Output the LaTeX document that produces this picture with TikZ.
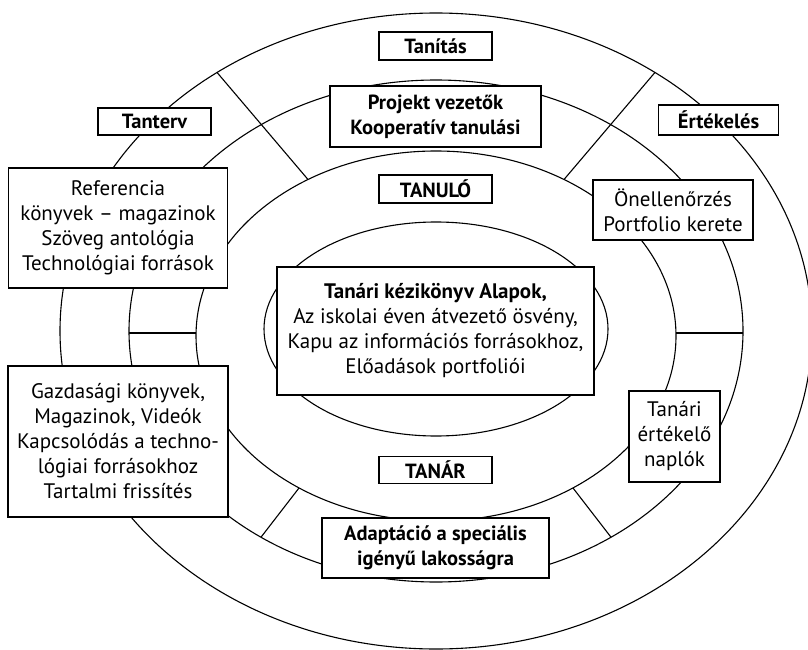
\documentclass[tikz,border=0pt]{standalone}
\usepackage{fontspec}
\setmainfont{PT Sans}
\begin{document}
\begin{tikzpicture}[x=1pt,y=-1pt,
  ring/.style={line width=1.1pt},
  divider/.style={line width=1.1pt},
  lbl/.style={draw, fill=white, line width=1.3pt, inner sep=0pt, align=center,
    font=\fontsize{20.5}{25}\selectfont\bfseries},
  txt/.style={draw, fill=white, line width=1.3pt, inner sep=0pt, align=center,
    font=\fontsize{21}{25}\selectfont}]
\useasboundingbox (0,0) rectangle (808,650);
% rings
\draw[ring] (436,331) ellipse [x radius=376, y radius=318];
\draw[ring] (436,331) ellipse [x radius=307, y radius=251];
\draw[ring] (436,336) ellipse [x radius=240, y radius=185];
\draw[ring] (436,329) ellipse [x radius=172, y radius=107];
% divider end points
\coordinate (ulA) at (217,72.4);
\coordinate (ulB) at (308,179.5);
\coordinate (urA) at (655,72.4);
\coordinate (urB) at (564,179.5);
\coordinate (llA) at (299,488);
\coordinate (llB) at (261,537.2);
\coordinate (lrA) at (573,488);
\coordinate (lrB) at (611,537.2);
\coordinate (lhA) at (129,333);
\coordinate (lhB) at (196,333);
\coordinate (rhA) at (676,333);
\coordinate (rhB) at (743,333);
\draw[divider] (ulA) -- (ulB);
\draw[divider] (urA) -- (urB);
\draw[divider] (llA) -- (llB);
\draw[divider] (lrA) -- (lrB);
\draw[divider] (lhA) -- (lhB);
\draw[divider] (rhA) -- (rhB);
% boxes
\node[lbl, minimum width=113, minimum height=28] (tanitas) at (435.5,46) {Tanítás};
\node[lbl, minimum width=113, minimum height=28] (tanulo) at (435.5,189) {TANULÓ};
\node[lbl, minimum width=113, minimum height=27] (tanar) at (435.5,470) {TANÁR};
\node[lbl, minimum width=113, minimum height=27] (tanterv) at (154.5,121.5) {Tanterv};
\node[lbl, minimum width=120, minimum height=30] (ertekeles) at (718.5,120) {Értékelés};
\node[lbl, minimum width=211, minimum height=61] (projekt) at (435.5,116.5) {Projekt vezetők\\Kooperatív tanulási};
\node[lbl, minimum width=227, minimum height=60] (adapt) at (435.5,548) {Adaptáció a speciális\\igényű lakosságra};
\node[txt, minimum width=219, minimum height=120] (ref) at (118,228) {Referencia\\könyvek – magazinok\\Szöveg antológia\\Technológiai források};
\node[txt, minimum width=220, minimum height=151] (gazd) at (118,441.5) {Gazdasági könyvek,\\Magazinok, Videók\\Kapcsolódás a techno-\\lógiai forrásokhoz\\Tartalmi frissítés};
\node[txt, minimum width=160, minimum height=60] (onell) at (673,210) {Önellenőrzés\\Portfolio kerete};
\node[txt, minimum width=91, minimum height=91] (naplo) at (674.5,436.5) {Tanári\\értékelő\\naplók};
\node[txt, minimum width=317, minimum height=128] (center) at (435.5,331) {\textbf{Tanári kézikönyv Alapok,}\\Az iskolai éven átvezető ösvény,\\Kapu az információs forrásokhoz,\\Előadások portfoliói};
\end{tikzpicture}
\end{document}
